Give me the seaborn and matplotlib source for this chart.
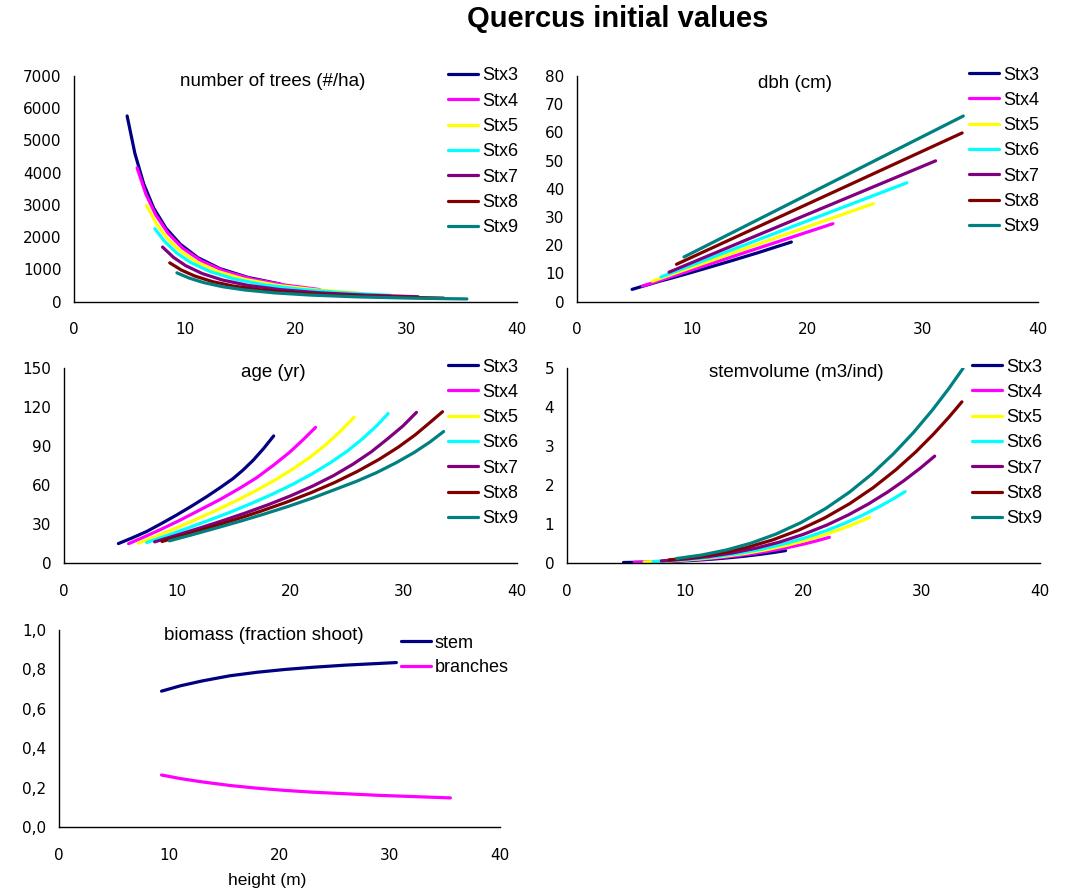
import numpy as np
import pandas as pd
import matplotlib
matplotlib.use("Agg")
import matplotlib.pyplot as plt
import seaborn as sns

# ---- data ------------------------------------------------------------------
series = ["Stx3", "Stx4", "Stx5", "Stx6", "Stx7", "Stx8", "Stx9"]
colors = ["#000080", "#FF00FF", "#FFFF00", "#00FFFF", "#800080", "#800000", "#008080"]
nan = np.nan

# tree height (m) per stand class, used for number of trees and dbh
heights = [
    [4.8, 5.5, 6.3, 7.2, 8.3, 9.6, 11.2, 13.2, 15.7, 18.6],
    [5.7, 6.5, 7.4, 8.5, 9.8, 11.5, 13.6, 16.2, 19.0, 22.2],
    [6.55, 7.4, 8.4, 9.6, 11.1, 13.0, 15.4, 18.4, 21.8, 25.7],
    [7.3, 8.2, 9.3, 10.6, 12.3, 14.4, 17.1, 20.4, 24.2, 28.6],
    [8.0, 9.0, 10.1, 11.6, 13.4, 15.7, 18.6, 22.1, 26.3, 31.1],
    [8.65, 9.7, 10.9, 12.5, 14.4, 16.9, 20.0, 23.8, 28.3, 33.4],
    [9.3, 10.4, 11.7, 13.4, 15.4, 18.1, 21.4, 25.4, 30.0, 33.5, 35.5],
]
n_trees = [
    [5760, 4600, 3650, 2900, 2280, 1780, 1360, 1020, 750, 545],
    [4150, 3330, 2680, 2120, 1660, 1260, 940, 690, 515, 370],
    [2990, 2440, 1970, 1570, 1225, 930, 690, 500, 365, 262],
    [2260, 1860, 1500, 1200, 930, 705, 520, 378, 275, 190],
    [1690, 1367, 1111, 866, 668, 502, 370, 271, 198, 147],
    [1200, 976, 792, 618, 479, 359, 265, 194, 142, 105],
    [890, 728, 589, 461, 359, 268, 199, 146, 108, 89, 80],
]
dbh = [
    [4.3, 5.15, 6.1, 7.2, 8.4, 9.9, 11.8, 14.2, 17.3, 21.1],
    [5.45, 6.52, 7.73, 9.21, 10.95, 13.24, 16.06, 19.55, 23.3, 27.6],
    [7.2, 8.42, 9.86, 11.58, 13.73, 16.46, 19.91, 24.22, 29.1, 34.7],
    [8.7, 10.11, 11.84, 13.87, 16.54, 19.83, 24.07, 29.24, 35.2, 42.1],
    [10.4, 12.11, 13.99, 16.56, 19.63, 23.57, 28.53, 34.51, 41.69, 49.9],
    [13.2, 15.18, 17.44, 20.45, 24.03, 28.73, 34.57, 41.72, 50.2, 59.8],
    [15.8, 18.07, 20.76, 24.27, 28.4, 33.98, 40.8, 49.06, 58.57, 65.8, nan],
]

# age and stem volume are read at a denser set of heights
dense_heights = [
    [4.8, 6.0, 7.3, 8.6, 9.95, 11.3, 12.6, 13.8, 14.94, 15.8, 16.7, 17.6, 18.5],
    [5.7, 7.1, 8.5, 10.2, 12.0, 13.8, 15.5, 17.0, 18.5, 19.9, 21.1, 22.2],
    [6.55, 8.0, 9.6, 11.4, 13.3, 15.1, 16.9, 18.6, 20.2, 21.7, 23.1, 24.4, 25.6],
    [7.3, 9.0, 10.8, 12.7, 14.6, 16.5, 18.4, 20.2, 21.9, 23.5, 25.0, 26.4, 27.6, 28.6],
    [8.0, 10.0, 12.0, 14.0, 16.0, 18.0, 20.0, 22.0, 23.8, 25.5, 27.1, 28.5, 29.9, 31.1],
    [8.65, 10.8, 13.0, 15.2, 17.4, 19.6, 21.8, 23.9, 25.9, 27.8, 29.5, 31.0, 32.3, 33.4],
    [9.3, 11.4, 13.5, 15.6, 17.7, 19.8, 21.9, 23.9, 25.8, 27.6, 29.3, 30.9, 32.3, 33.5],
]
age = [
    [14.7, 19.0, 24.0, 30.1, 36.7, 43.7, 50.8, 57.8, 64.8, 71.2, 78.8, 87.6, 97.4],
    [14.6, 19.9, 25.4, 32.5, 40.6, 48.7, 57.2, 65.3, 75.0, 84.8, 94.5, 104.0],
    [15.0, 19.9, 25.6, 32.3, 39.7, 47.2, 55.2, 63.4, 72.0, 81.0, 90.7, 101.1, 111.8],
    [15.5, 20.6, 26.2, 32.3, 38.6, 45.4, 52.7, 60.3, 68.3, 76.8, 85.8, 95.6, 105.3, 114.6],
    [16.0, 21.3, 26.7, 32.3, 38.2, 44.5, 51.4, 59.1, 67.0, 75.7, 85.1, 94.8, 105.0, 115.5],
    [16.3, 21.8, 27.5, 33.4, 39.7, 46.4, 53.8, 61.7, 70.2, 79.4, 88.8, 98.3, 107.8, 116.0],
    [16.8, 21.7, 26.8, 32.0, 37.5, 43.3, 49.6, 56.2, 62.5, 69.3, 76.8, 84.7, 92.8, 100.8],
]
stemvolume = [
    [0.005, 0.011, 0.019, 0.031, 0.048, 0.071, 0.098, 0.129, 0.163, 0.193, 0.228, 0.267, 0.31],
    [0.011, 0.021, 0.036, 0.063, 0.103, 0.156, 0.221, 0.292, 0.376, 0.468, 0.558, 0.65],
    [0.019, 0.035, 0.061, 0.102, 0.163, 0.238, 0.334, 0.445, 0.570, 0.707, 0.852, 1.004, 1.16],
    [0.030, 0.057, 0.098, 0.159, 0.242, 0.349, 0.485, 0.641, 0.817, 1.010, 1.216, 1.432, 1.636, 1.82],
    [0.046, 0.091, 0.157, 0.249, 0.372, 0.529, 0.726, 0.966, 1.224, 1.505, 1.806, 2.101, 2.426, 2.73],
    [0.072, 0.139, 0.243, 0.388, 0.583, 0.833, 1.146, 1.510, 1.921, 2.376, 2.838, 3.294, 3.727, 4.12],
    [0.107, 0.196, 0.326, 0.503, 0.735, 1.028, 1.391, 1.808, 2.274, 2.785, 3.332, 3.908, 4.464, 4.98],
]

bio_parts = ["stem", "branches"]
bio_colors = ["#000080", "#FF00FF"]
stem_height = [9.3, 11, 13, 15.5, 18, 20.5, 23, 26, 28.5, 30.6]
stem_frac = [0.690, 0.717, 0.742, 0.768, 0.786, 0.800, 0.811, 0.822, 0.829, 0.835]
branch_height = [9.3, 11, 13, 15.5, 18, 20.5, 23, 26, 29, 32, 35.5]
branch_frac = [0.265, 0.247, 0.230, 0.212, 0.198, 0.187, 0.178, 0.170, 0.162, 0.156, 0.149]
bio_ticklabels = ["0,0", "0,2", "0,4", "0,6", "0,8", "1,0"]

x_ticks = [0, 10, 20, 30, 40]

# ---- figure ---------------------------------------------------------------
sns.set_style("white")
plt.rcParams["font.family"] = ["Liberation Sans", "DejaVu Sans"]
plt.rcParams["text.color"] = "black"

W, H = 1065, 892
fig = plt.figure(figsize=(W / 100, H / 100), dpi=100)


def rect(left, right, top, bottom):
    return [left / W, 1 - bottom / H, (right - left) / W, (bottom - top) / H]


def style_axes(ax, yticks, ylabels):
    sns.despine(ax=ax)
    for s in ("left", "bottom"):
        ax.spines[s].set_color("black")
        ax.spines[s].set_linewidth(1)
    ax.set_xlim(0, 40)
    ax.set_ylim(yticks[0], yticks[-1])
    ax.set_xticks(x_ticks)
    ax.set_xticklabels([str(t) for t in x_ticks], fontfamily="DejaVu Sans", fontsize=11)
    ax.set_yticks(yticks)
    ax.set_yticklabels(ylabels, fontfamily="DejaVu Sans", fontsize=11)
    ax.tick_params(axis="both", direction="out", length=5, width=1, colors="black")
    ax.tick_params(axis="x", pad=10)
    ax.tick_params(axis="y", pad=4)
    ax.set_xlabel("")
    ax.set_ylabel("")


def add_legend(ax, names, x_px, top_px, spacing=0.46):
    lines = ax.get_lines()[:len(names)]
    ax.legend(lines, names, loc="upper left",
              bbox_to_anchor=(x_px / W, 1 - top_px / H), bbox_transform=fig.transFigure,
              frameon=False, fontsize=13, handlelength=1.65, handletextpad=0.22,
              labelspacing=spacing, borderpad=0, borderaxespad=0)


panels = [
    ("number of trees (#/ha)", heights, n_trees, list(range(0, 7001, 1000)),
     rect(74, 516.7, 76, 301.5), (273, 82), (448, 67.5)),
    ("dbh (cm)", heights, dbh, list(range(0, 81, 10)),
     rect(576.7, 1038.3, 76, 301.5), (795, 83), (969, 66.5)),
    ("age (yr)", dense_heights, age, list(range(0, 151, 30)),
     rect(64, 517.3, 367.5, 562.7), (273, 373), (448, 358.5)),
    ("stemvolume (m3/ind)", dense_heights, stemvolume, list(range(0, 6)),
     rect(566.7, 1040, 367.5, 562.7), (796, 373), (972, 358.5)),
]

for title, xs, values, yticks, r, tpos, lpos in panels:
    rows = []
    for name, hs, vs in zip(series, xs, values):
        for h, v in zip(hs, vs):
            rows.append((name, h, v))
    df = pd.DataFrame(rows, columns=["series", "height", "value"]).dropna()
    ax = fig.add_axes(r)
    sns.lineplot(data=df, x="height", y="value", hue="series", hue_order=series,
                 palette=dict(zip(series, colors)), sort=False, estimator=None,
                 linewidth=2.3, legend=False, ax=ax)
    style_axes(ax, yticks, [str(t) for t in yticks])
    add_legend(ax, series, *lpos)
    fig.text(tpos[0] / W, 1 - tpos[1] / H, title, ha="center", va="center", fontsize=13.5)

# biomass panel
bio = pd.concat([
    pd.DataFrame({"part": "stem", "height": stem_height, "value": stem_frac}),
    pd.DataFrame({"part": "branches", "height": branch_height, "value": branch_frac}),
])
ax = fig.add_axes(rect(59, 500, 630, 827.3))
sns.lineplot(data=bio, x="height", y="value", hue="part", hue_order=bio_parts,
             palette=dict(zip(bio_parts, bio_colors)), sort=False, estimator=None,
             linewidth=2.3, legend=False, ax=ax)
style_axes(ax, [0, 0.2, 0.4, 0.6, 0.8, 1.0], bio_ticklabels)
add_legend(ax, bio_parts, 401, 634.5, spacing=0.43)
fig.text(264 / W, 1 - 636 / H, "biomass (fraction shoot)", ha="center", va="center", fontsize=13.5)
fig.text(267 / W, 1 - 880 / H, "height (m)", ha="center", va="center", fontsize=12.5)

fig.text(618 / W, 1 - 19 / H, "Quercus initial values", ha="center", va="center",
         fontsize=21, fontweight="bold")

fig.savefig("out.png", dpi=100)
